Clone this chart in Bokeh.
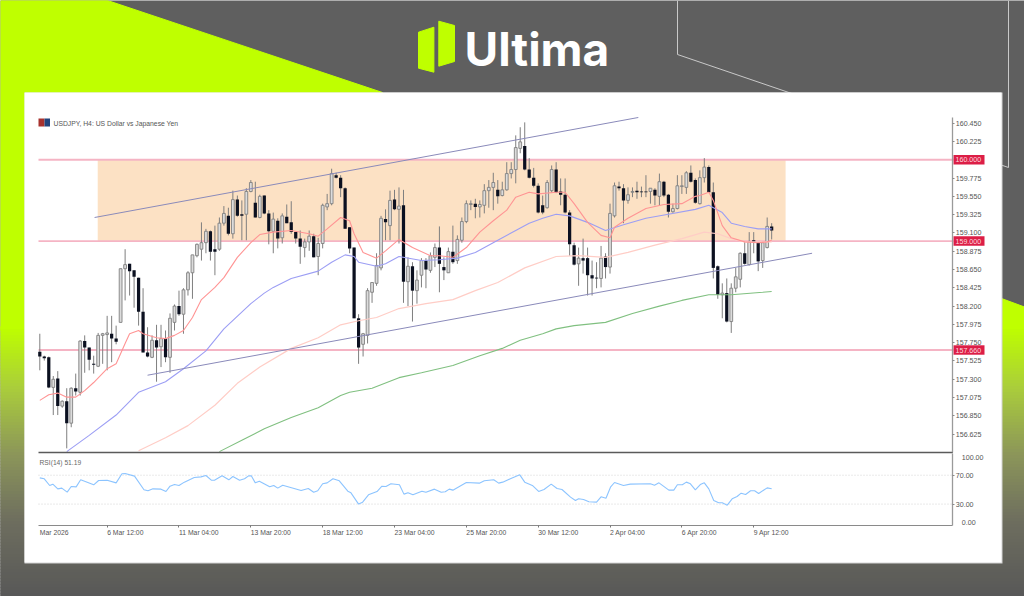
from bokeh.plotting import figure
from bokeh.models import Range1d, LinearAxis, FixedTicker, NumeralTickFormatter
from bokeh.core.properties import value
from bokeh.embed import file_html
from bokeh.resources import INLINE

# ---------- chart data ----------
title_text = "USDJPY, H4:  US Dollar vs Japanese Yen"
rsi_text = "RSI(14) 51.19"

opens = [157.64,157.58,157.57,157.20,157.31,156.97,157.03,156.76,157.19,157.14,
157.77,157.69,157.49,157.46,157.84,157.85,157.86,157.80,158.00,158.66,
158.72,158.64,158.55,158.13,157.63,157.57,157.78,157.70,157.80,157.57,
158.00,158.20,158.10,158.40,158.61,158.82,158.90,158.98,159.12,158.90,
158.90,159.22,159.31,159.09,159.51,159.33,159.33,159.61,159.47,159.29,
159.56,159.34,159.12,159.25,159.04,159.30,159.23,159.11,159.03,158.92,
158.99,159.06,158.81,158.97,159.42,159.46,159.81,159.78,159.65,159.17,
158.92,158.05,157.73,157.84,158.37,158.48,158.67,159.27,159.19,159.51,
159.39,159.44,158.50,158.69,158.39,158.58,158.76,158.64,158.80,158.92,
158.68,158.61,158.87,158.76,159.01,159.24,159.45,159.46,159.42,159.44,
159.62,159.66,159.63,159.56,159.63,159.83,159.88,160.14,160.17,159.88,
159.78,159.68,159.44,159.41,159.62,159.88,159.61,159.57,159.35,158.95,
158.72,158.79,158.79,158.58,158.55,158.54,158.81,158.68,159.31,159.67,
159.65,159.50,159.60,159.62,159.61,159.61,159.61,159.63,159.55,159.73,
159.57,159.36,159.40,159.67,159.66,159.84,159.75,159.46,159.78,159.91,
159.60,158.69,158.34,158.36,158.01,158.42,158.53,158.85,158.71,159.01,
158.98,158.76,158.92,159.18]
highs = [157.86,157.59,157.58,157.34,157.40,157.04,157.19,157.20,157.37,157.78,
157.84,157.69,157.59,157.87,157.87,158.08,158.08,157.96,158.66,158.90,
158.72,158.64,158.55,158.42,157.94,157.84,157.97,157.97,157.90,158.11,
158.22,158.39,158.42,158.63,158.83,158.97,159.23,159.15,159.13,159.19,
159.29,159.43,159.41,159.62,159.56,159.50,159.65,159.75,159.73,159.57,
159.56,159.38,159.35,159.28,159.34,159.45,159.49,159.11,159.13,159.03,
159.13,159.09,159.04,159.46,159.58,159.89,159.84,159.81,159.66,159.17,
158.92,158.10,157.87,158.42,158.49,158.85,159.31,159.39,159.62,159.63,
159.66,159.63,158.80,158.74,158.64,158.79,158.79,158.86,158.97,159.18,
158.80,158.92,159.19,159.07,159.29,159.50,159.50,159.52,159.50,159.70,
159.75,159.84,159.75,159.73,159.97,159.97,160.30,160.40,160.46,160.02,
159.90,159.71,159.56,159.75,159.93,159.97,159.77,159.77,159.38,158.98,
158.92,159.03,158.92,158.76,158.74,158.94,158.85,159.46,159.72,159.73,
159.70,159.66,159.66,159.73,159.67,159.81,159.65,159.65,159.83,159.74,
159.58,159.46,159.81,159.81,159.86,159.93,159.77,159.87,160.02,159.93,
159.72,158.70,158.48,158.54,158.48,158.67,158.86,158.99,159.11,159.11,
158.99,158.99,159.29,159.22]
lows = [157.41,157.53,157.19,156.86,156.86,156.95,156.45,156.71,157.10,157.10,
157.38,157.41,157.37,157.45,157.49,157.41,157.51,157.73,158.00,158.27,
158.33,158.18,157.96,157.63,157.57,157.56,157.27,157.45,157.51,157.38,
157.90,158.08,157.86,158.33,158.29,158.80,158.76,158.85,158.76,158.58,
158.88,159.19,159.07,159.03,159.30,159.01,159.01,159.60,159.29,159.28,
159.33,158.96,158.85,158.91,158.97,159.22,159.09,158.97,158.72,158.80,
158.88,158.80,158.58,158.91,159.38,159.44,159.77,159.54,159.15,158.85,
158.05,157.49,157.58,157.74,158.24,158.45,158.64,159.01,159.01,159.38,
158.97,158.24,158.20,158.01,158.23,158.43,158.42,158.61,158.68,158.37,
158.52,158.61,158.72,158.72,158.98,159.22,159.38,159.28,159.29,159.34,
159.41,159.38,159.46,159.55,159.62,159.77,159.71,160.08,159.87,159.77,
159.66,159.34,159.33,159.40,159.60,159.59,159.44,159.34,158.82,158.70,
158.45,158.60,158.33,158.33,158.42,158.43,158.54,158.60,159.29,159.62,
159.22,159.46,159.54,159.52,159.54,159.54,159.46,159.44,159.44,159.54,
159.29,159.35,159.39,159.58,159.58,159.72,159.46,159.45,159.72,159.59,
158.54,158.29,158.05,158.00,157.87,158.37,158.43,158.71,158.70,158.85,
158.63,158.67,158.91,159.02]
closes = [157.58,157.56,157.20,157.30,156.97,157.03,156.76,157.19,157.15,157.77,
157.69,157.54,157.48,157.84,157.86,157.87,157.80,157.76,158.66,158.71,
158.63,158.56,158.13,157.63,157.58,157.78,157.69,157.80,157.57,158.05,
158.20,158.10,158.40,158.61,158.83,158.96,158.98,159.12,158.87,158.87,
159.22,159.34,159.09,159.51,159.31,159.31,159.61,159.72,159.29,159.55,
159.34,159.12,159.27,159.03,159.31,159.22,159.11,159.03,158.93,158.99,
159.06,158.80,158.97,159.44,159.46,159.83,159.78,159.65,159.15,158.91,
158.05,157.69,157.86,158.39,158.49,158.70,159.28,159.23,159.50,159.39,
159.43,158.50,158.69,158.39,158.52,158.76,158.65,158.82,158.92,158.72,
158.64,158.87,158.74,159.02,159.24,159.46,159.46,159.42,159.45,159.62,
159.66,159.72,159.55,159.63,159.83,159.88,160.15,160.22,159.88,159.78,
159.68,159.35,159.35,159.72,159.88,159.60,159.57,159.35,158.96,158.71,
158.79,158.76,158.58,158.54,158.54,158.79,158.68,159.34,159.68,159.65,
159.50,159.57,159.61,159.60,159.60,159.60,159.65,159.56,159.73,159.56,
159.36,159.40,159.68,159.68,159.84,159.73,159.47,159.78,159.91,159.60,
158.67,158.34,158.36,158.01,158.42,158.56,158.85,158.72,158.99,158.99,
158.75,158.98,159.18,159.13]

ma_red_bars = [0,2,4,6,8,10,12,15,17,19,20,22,23,26,28,30,32,34,36,39,41,44,47,49,52,56,60,62,64,67,69,70,72,75,77,80,83,87,89,92,95,98,101,104,106,109,111,115,117,119,122,125,127,128,131,135,139,143,146,147,149,150,152,154,157,160,162,163]
ma_red = [157.04,157.11,157.13,157.08,157.08,157.16,157.26,157.43,157.49,157.74,157.86,157.90,157.86,157.81,157.80,157.84,157.90,158.06,158.28,158.43,158.55,158.80,158.98,159.08,159.11,159.13,159.09,159.06,159.15,159.29,159.25,159.09,158.86,158.79,158.88,159.02,158.92,158.82,158.82,158.80,158.92,159.11,159.25,159.38,159.54,159.60,159.58,159.60,159.60,159.46,159.23,159.07,159.04,159.17,159.28,159.40,159.45,159.46,159.55,159.56,159.60,159.50,159.19,159.04,158.99,158.98,158.99,159.01]
ma_blue_bars = [6,11,17,22,28,32,37,41,47,50,52,56,62,65,68,70,71,75,77,80,85,89,93,97,102,106,109,112,115,118,122,126,130,135,140,146,149,152,154,157,160,163]
ma_blue = [156.41,156.61,156.86,157.14,157.27,157.43,157.65,157.92,158.23,158.36,158.43,158.54,158.63,158.74,158.83,158.81,158.74,158.69,158.72,158.81,158.76,158.77,158.79,158.86,159.01,159.13,159.22,159.28,159.33,159.31,159.23,159.13,159.20,159.28,159.33,159.39,159.44,159.35,159.22,159.18,159.15,159.15]
ma_pink_bars = [22,28,33,39,44,49,56,62,67,71,75,80,86,92,97,102,108,115,120,126,131,137,143,148,151,154,157,163]
ma_pink = [156.42,156.58,156.73,156.98,157.25,157.45,157.68,157.81,157.97,158.02,158.06,158.17,158.23,158.28,158.39,158.49,158.67,158.81,158.82,158.80,158.86,158.95,159.03,159.11,159.09,159.03,158.99,158.99]
ma_green_bars = [40,45,50,56,62,67,69,74,80,85,92,98,103,107,112,115,119,126,132,138,143,149,154,161,163]
ma_green = [156.41,156.55,156.69,156.83,156.95,157.10,157.14,157.19,157.32,157.38,157.47,157.59,157.68,157.78,157.86,157.92,157.96,158.00,158.11,158.20,158.27,158.34,158.34,158.37,158.38]

rsi_bars = [0,1,2.2,2.9,4,4.9,6.1,7,8.1,9.1,10.7,12,13.1,15,17,18.3,19,21.1,23.2,24.1,25.2,27,28.1,29,30,31,32.2,34.4,35.9,37,38.2,38.9,40.6,42.1,43,44.5,45.6,46.5,47.1,48,48.9,51.2,52.1,53,54.1,58.2,59.8,61,61.9,63,64,65.3,66.7,68.6,69.3,71,71.9,73.2,75.1,76.2,77.1,78.2,80.1,81.1,82,83.1,85.1,86,87.9,89.4,90.3,91.2,92,95,97.9,99,101.1,102.2,103.1,104.8,106.9,108,109.7,111.1,112.3,113.9,115.2,116.3,118.2,119.3,120,121.1,122.3,124,125,126.1,127.1,128,130,131.5,136,136.9,137.9,140.1,141.2,142,143.1,144,144.9,146,147.1,148,149,150.1,151.2,152,153.1,154.2,155.3,156.2,157.2,158.3,159.2,160.1,162,163]
rsi_values = [66.3,65,55.7,57.6,51.1,52.1,46.5,54.4,53.9,63.6,59.9,56.7,62.7,63.1,59.4,71.9,72.4,68.7,49.8,48.4,51.1,50.7,47.4,54.8,57.1,55.8,60.4,66.8,67.7,69.6,63.1,63.1,69.1,63.6,68.2,63.1,65,69.1,69.1,59.4,61.7,53.9,55.8,52.1,56.2,48.8,51.6,46.5,48.4,58.1,59.4,65,62.2,47.9,45.6,30,32.7,42.8,47.4,54.8,54.4,58.1,56.7,43.8,45.6,42.8,47.9,46.5,50.7,46.5,47,50.7,49.3,59.9,59,62.2,63.6,59,60.4,65,70.5,60.4,55.8,47.5,50.2,57.6,51.6,50.2,39.6,35,37.3,36.4,33.2,32.7,40.1,38.2,53.4,59.9,55.8,57.6,58.1,56.2,59.4,49.3,49.3,56.7,56.7,60.4,58.1,49.8,57.1,59.4,51.1,35,31.8,31.8,28.5,37.3,40.5,45.1,43.3,48.4,48.4,44.7,52.5,51.19]

price_ticks = [160.45,160.225,159.775,159.55,159.325,159.1,158.875,158.65,158.425,158.2,157.975,157.75,157.525,157.3,157.075,156.85,156.625]
level_prices = [160.0,159.0,157.66]
level_labels = ["160.000","159.000","157.660"]
zone_bars = [12.9,166.1]
zone_prices = [159.0,160.0]
upper_trend_bars = [12.2,133.3]
upper_trend_prices = [159.29,160.52]
lower_trend_bars = [24.0,172.0]
lower_trend_prices = [157.35,158.85]
rsi_levels = [70,30]
time_bars = [0,15,31,47,63,79,95,111,127,143,159]
time_labels = ["Mar 2026","6 Mar 12:00","11 Mar 04:00","13 Mar 20:00","18 Mar 12:00","23 Mar 04:00","25 Mar 20:00","30 Mar 12:00","2 Apr 04:00","6 Apr 20:00","9 Apr 12:00"]

# ---------- figure: default ranges are page pixels, extra ranges are the chart's ----------
W, H = 1024, 596
p = figure(width=W, height=H, output_backend="svg", toolbar_location=None,
           x_range=Range1d(0, 1024), y_range=Range1d(596, 0),
           x_axis_type=None, y_axis_type=None, min_border=0,
           outline_line_color=None, background_fill_color="#5F5F5F",
           border_fill_color="#5F5F5F")
p.extra_x_ranges = {"bars": Range1d(-8.753, 219.31)}
p.extra_y_ranges = {"price": Range1d(154.628, 161.959), "rsi": Range1d(-97.8, 726.6)}

# ---------- backdrop ----------
p.patch([0, 107, 382, 24, 24, 0], [0, 0, 92, 92, 330, 330], color="#BFFF00")
p.patch([1001, 1024, 1024, 1001], [298, 306.5, 330, 330], color="#BFFF00")
stops = [(326, (191, 255, 0)), (387, (170, 205, 60)), (453, (140, 150, 90)), (520, (110, 110, 95)), (596, (88, 88, 88))]
rows = list(range(326, 596, 3))
cols = []
for r in rows:
    for (a, ca), (b, cb) in zip(stops, stops[1:]):
        if a <= r <= b:
            t = (r - a) / (b - a)
            cols.append("#%02X%02X%02X" % tuple(int(ca[k] + (cb[k] - ca[k]) * t) for k in range(3)))
            break
p.quad(left=0, right=1024, top=rows, bottom=[r + 3 for r in rows], color=cols)
p.line([677, 677, 1008, 1008], [0, 54, 167, 0], line_color="#C9C9C9", line_width=1)
p.quad(left=[24], right=[1002], top=[92], bottom=[563], fill_color="#D4D4D4", line_color=None)
p.quad(left=[24], right=[1001], top=[92], bottom=[562], fill_color="#FFFFFF", line_color=None)

# logo
p.patch([418, 433.4, 433.4, 418], [31.7, 26.7, 71.7, 67.7], color="#BFFF00")
p.patch([438.3, 454, 454, 438.3], [20.7, 25, 61, 65.7], color="#BFFF00")
p.text(x=[464], y=[48.5], text=["Ultima"], text_font=value("Inter"), text_font_style="bold",
       text_font_size="46px", text_color="#FFFFFF", text_baseline="middle", text_align="left")

# ---------- price pane ----------
PX = dict(y_range_name="price")
BP = dict(x_range_name="bars", y_range_name="price")
p.quad(left=[zone_bars[0]], right=[zone_bars[1]], bottom=[zone_prices[0]], top=[zone_prices[1]],
       fill_color="#FCE1C4", line_color=None, **BP)
for lv in level_prices:
    p.line([38, 953], [lv, lv], line_color="#F5B4C4", line_width=1.8, **PX)

up = [i for i in range(len(opens)) if closes[i] >= opens[i]]
dn = [i for i in range(len(opens)) if closes[i] < opens[i]]
p.segment(x0=list(range(len(opens))), x1=list(range(len(opens))), y0=lows, y1=highs,
          line_color="#7F7F7F", line_width=1, **BP)
p.vbar(x=up, width=0.62, bottom=[opens[i] for i in up], top=[closes[i] for i in up],
       fill_color="#DCDCDC", line_color="#808080", line_width=0.9, **BP)
p.vbar(x=dn, width=0.72, bottom=[closes[i] for i in dn], top=[opens[i] for i in dn],
       fill_color="#0B1020", line_color=None, **BP)

p.line(ma_pink_bars, ma_pink, line_color="#FFCDC6", line_width=1.2, **BP)
p.line(ma_green_bars, ma_green, line_color="#80C080", line_width=1.1, **BP)
p.line(ma_blue_bars, ma_blue, line_color="#9C9EF4", line_width=1.1, **BP)
p.line(ma_red_bars, ma_red, line_color="#FF9494", line_width=1.1, **BP)
p.line(upper_trend_bars, upper_trend_prices, line_color="#8A8ABA", line_width=1, **BP)
p.line(lower_trend_bars, lower_trend_prices, line_color="#8A8ABA", line_width=1, **BP)

# price level flags
p.quad(left=953, right=984, top=[l + 0.058 for l in level_prices],
       bottom=[l - 0.058 for l in level_prices], fill_color="#DC1E46", line_color=None, **PX)
p.text(x=[955] * 3, y=level_prices, text=level_labels, text_font=value("Liberation Sans"),
       text_font_size="7.1px", text_color="#FFD8DE", text_baseline="middle", **PX)

# title and icon
p.quad(left=[38], right=[44], top=[118], bottom=[126], fill_color="#A8322E", line_color=None)
p.quad(left=[44], right=[49.5], top=[118], bottom=[126], fill_color="#23457E", line_color=None)
p.text(x=[53], y=[122.5], text=[title_text], text_font=value("Liberation Sans"),
       text_font_size="6.8px", text_color="#555555", text_baseline="middle")

# pane separator
p.line([38, 952.5], [452, 452], line_color="#5A5A5A", line_width=1.6)

price_axis = LinearAxis(y_range_name="price", fixed_location=952.3, ticker=FixedTicker(ticks=price_ticks),
                        formatter=NumeralTickFormatter(format="0.000"), bounds=(156.40, 160.52),
                        axis_line_color="#9A9A9A", axis_line_width=1.3,
                        major_tick_line_color="#8A8A8A", major_tick_in=0, major_tick_out=2,
                        minor_tick_line_color=None, major_label_standoff=1,
                        major_label_text_font="Liberation Sans", major_label_text_font_size="7.1px",
                        major_label_text_color="#555555")
p.add_layout(price_axis, "right")

# ---------- RSI pane ----------
p.text(x=[39], y=[462], text=[rsi_text], text_font=value("Liberation Sans"),
       text_font_size="6.7px", text_color="#666666", text_baseline="middle")
for lv in rsi_levels:
    p.line([38, 952], [lv, lv], line_color="#CFCFCF", line_width=0.9, line_dash="1 2", y_range_name="rsi")
p.line(rsi_bars, rsi_values, line_color="#8CC4FF", line_width=1.1, x_range_name="bars", y_range_name="rsi")

rsi_axis = LinearAxis(y_range_name="rsi", fixed_location=952.3, ticker=FixedTicker(ticks=rsi_levels),
                      formatter=NumeralTickFormatter(format="0.00"), bounds=(0, 100),
                      axis_line_color="#9A9A9A", axis_line_width=1.3,
                      major_tick_line_color="#8A8A8A", major_tick_in=0, major_tick_out=2,
                      minor_tick_line_color=None, major_label_standoff=1,
                      major_label_text_font="Liberation Sans", major_label_text_font_size="7.1px",
                      major_label_text_color="#555555")
p.add_layout(rsi_axis, "right")
rsi_end_axis = LinearAxis(y_range_name="rsi", fixed_location=952.3, ticker=FixedTicker(ticks=[94.9, 4.6]),
                          major_label_overrides={94.9: "100.00", 4.6: "0.00"},
                          axis_line_color=None, major_tick_line_color=None, minor_tick_line_color=None,
                          major_label_standoff=3,
                          major_label_text_font="Liberation Sans", major_label_text_font_size="7.1px",
                          major_label_text_color="#555555")
p.add_layout(rsi_end_axis, "right")

# ---------- time axis ----------
time_axis = LinearAxis(x_range_name="bars", fixed_location=525.3, ticker=FixedTicker(ticks=time_bars[1:]),
                       major_label_overrides={b: "" for b in time_bars[1:]}, bounds=(-0.2, 203.3),
                       axis_line_color="#8A8A8A", axis_line_width=1.1,
                       major_tick_line_color="#777777", major_tick_in=0, major_tick_out=2,
                       minor_tick_line_color=None)
p.add_layout(time_axis, "below")
p.text(x=time_bars, y=[532] * len(time_bars), text=time_labels, text_font=value("Liberation Sans"),
       text_font_size="6.8px", text_color="#555555", text_baseline="middle", text_align="left",
       x_range_name="bars")

open("out.html", "w").write(file_html(p, INLINE))
